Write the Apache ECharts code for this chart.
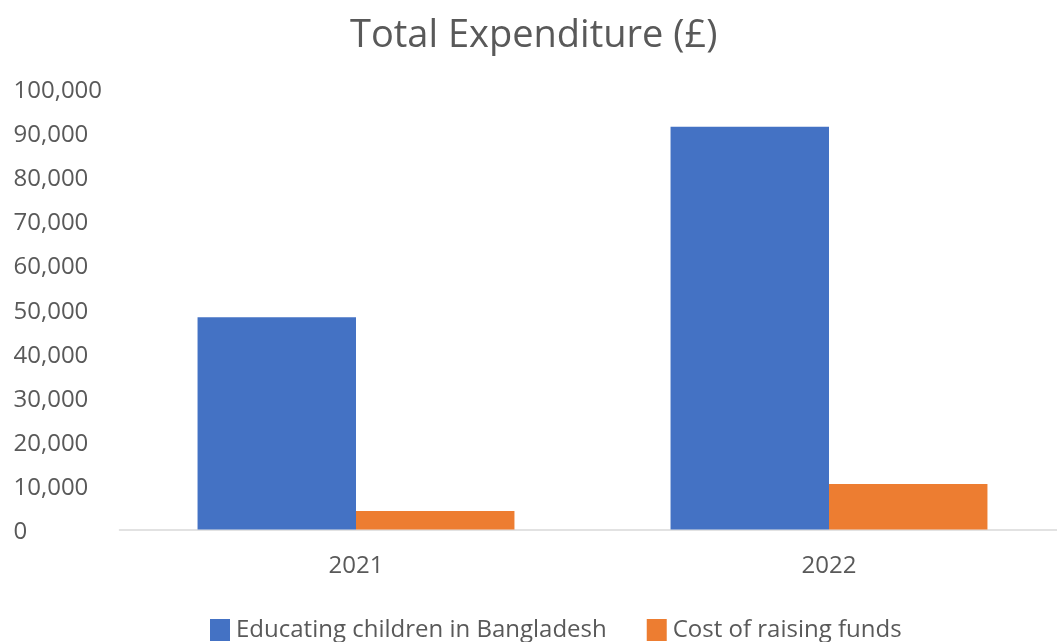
<!DOCTYPE html>
<html>
<head>
<meta charset="utf-8">
<script src="https://cdn.jsdelivr.net/npm/echarts@6/dist/echarts.min.js"></script>
<style>
html,body{margin:0;padding:0;background:#fff;}
#chart{width:1057px;height:642px;}
</style>
</head>
<body>
<div id="chart"></div>
<script>
const categories = ['2021', '2022'];
const educating = [48100, 91200];
const fundraising = [4200, 10300];
const seriesNames = ['Educating children in Bangladesh', 'Cost of raising funds'];

const FONT = '"Open Sans", sans-serif';
const TXT = '#595959';

const chart = echarts.init(document.getElementById('chart'));
chart.setOption({
  animation: false,
  backgroundColor: '#ffffff',
  title: {
    text: 'Total Expenditure (£)',
    left: 345,
    top: 12,
    textStyle: { fontFamily: FONT, fontSize: 38, fontWeight: 'normal', color: TXT }
  },
  legend: {
    data: seriesNames,
    left: 210,
    top: 618,
    padding: 0,
    icon: 'rect',
    itemWidth: 20,
    itemHeight: 22,
    itemGap: 40,
    textStyle: { fontFamily: FONT, fontSize: 24, color: TXT, padding: [0, 0, 0, 1] }
  },
  grid: {
    left: 119.5,
    right: -8.5,
    top: 88,
    bottom: 112.5,
    outerBoundsMode: 'none'
  },
  xAxis: {
    type: 'category',
    data: categories,
    axisLine: { show: true, lineStyle: { color: '#d9d9d9', width: 1.5 } },
    axisTick: { show: false },
    axisLabel: { fontFamily: FONT, fontSize: 24, color: TXT, margin: 25 }
  },
  yAxis: {
    type: 'value',
    min: 0,
    max: 100000,
    interval: 10000,
    axisLine: { show: false },
    axisTick: { show: false },
    splitLine: { show: false },
    axisLabel: {
      fontFamily: FONT, fontSize: 24, color: TXT, align: 'left', margin: 106,
      verticalAlign: 'top', lineHeight: 24,
      padding: [-9, 0, 0, 0],
      formatter: v => v.toLocaleString('en-US')
    }
  },
  series: [
    {
      name: seriesNames[0], type: 'bar', data: educating,
      itemStyle: { color: '#4472C4' },
      barGap: '0%', barCategoryGap: '33%'
    },
    {
      name: seriesNames[1], type: 'bar', data: fundraising,
      itemStyle: { color: '#ED7D31' },
      barGap: '0%', barCategoryGap: '33%'
    }
  ]
});
</script>
</body>
</html>
